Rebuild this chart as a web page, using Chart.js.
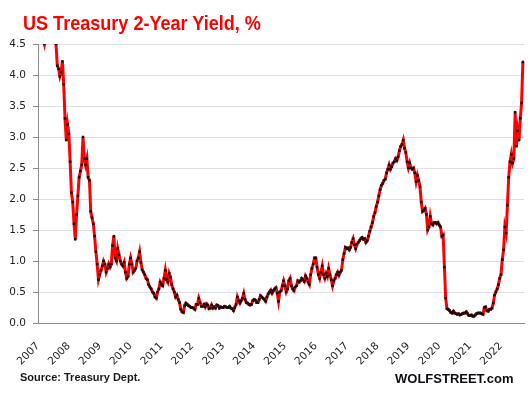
<!DOCTYPE html>
<html>
<head>
<meta charset="utf-8">
<script src="https://cdn.jsdelivr.net/npm/chart.js@4.4.1/dist/chart.umd.min.js"></script>
<style>
    body { margin: 0; background: #fff; }
    #wrap { position: relative; width: 532px; height: 399px; }
    .title {
        position: absolute; left: 23px; top: 12px; white-space: nowrap;
        font: bold 21px/21px "Liberation Sans", Arial, sans-serif;
        color: #ff0000;
        transform: scaleX(0.86); transform-origin: left top;
    }
    .source {
        position: absolute; left: 20px; top: 372px; white-space: nowrap;
        font: bold 11px/11px "Liberation Sans", Arial, sans-serif; color: #1a1a1a;
    }
    .brand {
        position: absolute; left: 395px; top: 372px; white-space: nowrap;
        font: bold 13px/13px "Liberation Sans", Arial, sans-serif; color: #0d0d14;
    }
</style>
</head>
<body>
<div id="wrap">
    <canvas id="yieldChart"></canvas>
    <div class="title">US Treasury 2-Year Yield, %</div>
    <div class="source">Source: Treasury Dept.</div>
    <div class="brand">WOLFSTREET.com</div>
</div>
<script>
// ===== Data: 2-year yield, read twice a month (1st and 16th) =====
const years = [2007, 2008, 2009, 2010, 2011, 2012, 2013, 2014, 2015, 2016, 2017, 2018, 2019, 2020, 2021, 2022];
const yTicks = [0, 0.5, 1, 1.5, 2, 2.5, 3, 3.5, 4, 4.5];

const y2007 = [4.81, 4.90, 4.95, 4.73, 4.59, 4.50, 4.61, 4.67, 4.62, 4.79, 4.96, 5.05, 4.87, 4.75, 4.50, 4.15, 4.10, 3.98, 4.05, 4.22, 3.85, 3.30, 2.95, 3.20];
const y2008 = [3.05, 2.60, 2.10, 1.95, 1.60, 1.35, 1.75, 2.05, 2.35, 2.45, 2.55, 3.00, 2.65, 2.55, 2.65, 2.35, 2.30, 1.80, 1.70, 1.60, 1.40, 1.15, 0.95, 0.70];
const y2009 = [0.78, 0.85, 0.92, 1.00, 0.95, 0.82, 0.88, 0.95, 0.90, 0.95, 1.25, 1.40, 1.05, 1.00, 1.20, 1.10, 1.00, 0.95, 0.92, 0.98, 0.82, 0.72, 0.75, 0.95];
const y2010 = [1.05, 0.95, 0.82, 0.85, 0.88, 1.00, 1.05, 1.15, 0.98, 0.86, 0.82, 0.78, 0.72, 0.70, 0.62, 0.58, 0.55, 0.50, 0.48, 0.42, 0.40, 0.50, 0.55, 0.66];
const y2011 = [0.62, 0.60, 0.72, 0.85, 0.70, 0.66, 0.80, 0.74, 0.62, 0.55, 0.50, 0.42, 0.45, 0.38, 0.33, 0.22, 0.18, 0.17, 0.28, 0.32, 0.30, 0.28, 0.27, 0.25];
const y2012 = [0.25, 0.24, 0.22, 0.30, 0.30, 0.40, 0.33, 0.27, 0.27, 0.30, 0.26, 0.31, 0.29, 0.23, 0.24, 0.29, 0.24, 0.26, 0.24, 0.29, 0.28, 0.24, 0.26, 0.25];
const y2013 = [0.25, 0.27, 0.26, 0.25, 0.25, 0.27, 0.24, 0.23, 0.20, 0.25, 0.30, 0.42, 0.36, 0.32, 0.36, 0.40, 0.48, 0.38, 0.33, 0.32, 0.30, 0.29, 0.30, 0.36];
const y2014 = [0.38, 0.37, 0.33, 0.33, 0.38, 0.44, 0.42, 0.40, 0.38, 0.35, 0.42, 0.47, 0.50, 0.53, 0.48, 0.52, 0.55, 0.57, 0.48, 0.35, 0.50, 0.52, 0.60, 0.68];
const y2015 = [0.60, 0.50, 0.55, 0.68, 0.72, 0.60, 0.55, 0.52, 0.58, 0.60, 0.68, 0.66, 0.68, 0.72, 0.70, 0.67, 0.76, 0.72, 0.66, 0.62, 0.78, 0.88, 0.95, 1.05];
const y2016 = [1.05, 0.90, 0.78, 0.72, 0.82, 0.92, 0.78, 0.72, 0.80, 0.75, 0.88, 0.78, 0.70, 0.60, 0.68, 0.72, 0.78, 0.82, 0.77, 0.82, 0.85, 1.02, 1.12, 1.22];
const y2017 = [1.20, 1.21, 1.18, 1.22, 1.30, 1.36, 1.26, 1.20, 1.27, 1.30, 1.33, 1.36, 1.38, 1.35, 1.36, 1.30, 1.33, 1.40, 1.48, 1.55, 1.62, 1.72, 1.78, 1.88];
const y2018 = [1.95, 2.05, 2.15, 2.22, 2.25, 2.30, 2.32, 2.42, 2.48, 2.55, 2.48, 2.52, 2.58, 2.60, 2.65, 2.62, 2.68, 2.78, 2.85, 2.88, 2.95, 2.82, 2.75, 2.60];
const y2019 = [2.50, 2.58, 2.50, 2.48, 2.50, 2.42, 2.28, 2.38, 2.30, 2.20, 1.95, 1.80, 1.82, 1.85, 1.75, 1.50, 1.55, 1.72, 1.60, 1.58, 1.62, 1.62, 1.60, 1.62];
const y2020 = [1.58, 1.55, 1.40, 1.42, 0.90, 0.40, 0.23, 0.22, 0.20, 0.17, 0.16, 0.19, 0.16, 0.15, 0.14, 0.15, 0.13, 0.14, 0.15, 0.16, 0.16, 0.18, 0.15, 0.12];
const y2021 = [0.12, 0.13, 0.11, 0.11, 0.13, 0.15, 0.16, 0.16, 0.16, 0.15, 0.14, 0.25, 0.26, 0.20, 0.19, 0.22, 0.22, 0.24, 0.32, 0.45, 0.50, 0.55, 0.62, 0.72];
const y2022 = [0.78, 1.02, 1.18, 1.55, 1.45, 1.90, 2.35, 2.60, 2.72, 2.58, 2.65, 3.40, 2.85, 3.10, 2.95, 3.30, 3.55, 4.21];

const series = [y2007, y2008, y2009, y2010, y2011, y2012, y2013, y2014, y2015, y2016, y2017, y2018, y2019, y2020, y2021, y2022];

// ===== Build points: each year has 24 half-month slots =====
const points = [];
series.forEach((arr, k) => {
    arr.forEach((v, i) => points.push({ x: years[k] + i / 24, y: v }));
});

const tickFont = { family: "DejaVu Sans", size: 10.5 };

new Chart(document.getElementById("yieldChart"), {
    type: "line",
    data: {
        datasets: [{
            data: points,
            borderColor: "#ff0000",
            borderWidth: 3,
            tension: 0,
            pointStyle: "rect",
            pointRadius: 1.8,
            pointBackgroundColor: "#111",
            pointBorderWidth: 0,
            clip: { left: 0, top: 0, right: 4, bottom: 4 }
        }]
    },
    options: {
        responsive: true,
        maintainAspectRatio: false,
        animation: false,
        layout: { padding: { left: 0, right: 8, top: 44, bottom: 0 } },
        plugins: { legend: { display: false }, tooltip: { enabled: false } },
        scales: {
            x: {
                type: "linear",
                min: 2007,
                max: 2022.745,
                afterBuildTicks: (scale) => { scale.ticks = years.map(v => ({ value: v })); },
                afterFit: (scale) => { scale.height = 76; },
                grid: { display: false },
                border: { color: "#8c8c8c", width: 1 },
                ticks: {
                    callback: (v) => String(v),
                    autoSkip: false,
                    maxRotation: 45,
                    minRotation: 45,
                    padding: 9,
                    color: "#222",
                    font: tickFont
                }
            },
            y: {
                min: 0,
                max: 4.5,
                afterBuildTicks: (scale) => { scale.ticks = yTicks.map(v => ({ value: v })); },
                afterFit: (scale) => { scale.width = 38; },
                grid: { color: "#dedee6", tickColor: "#8c8c8c", tickLength: 5 },
                border: { color: "#8c8c8c", width: 1 },
                ticks: {
                    callback: (v) => v.toFixed(1),
                    padding: 7,
                    color: "#222",
                    font: tickFont
                }
            }
        }
    }
});
</script>
</body>
</html>
